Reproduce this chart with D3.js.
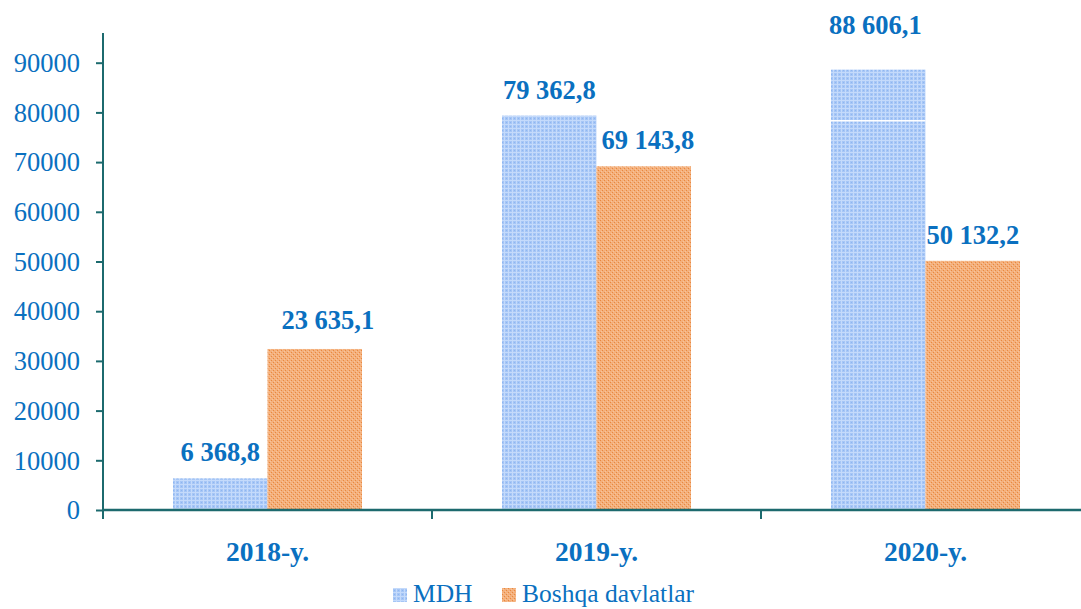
<!DOCTYPE html>
<html><head><meta charset="utf-8">
<script src="https://cdn.jsdelivr.net/npm/d3@7"></script>
<style>html,body{margin:0;padding:0;background:#fff;}svg{display:block;}</style>
</head><body>
<script>
const categories = ["2018-y.", "2019-y.", "2020-y."];
const seriesNames = ["MDH", "Boshqa davlatlar"];
const mdhValues = [6368.8, 79362.8, 88606.1];
const boshqaValues = [32400, 69143.8, 50132.2];
const mdhLabels = ["6 368,8", "79 362,8", "88 606,1"];
const boshqaLabels = ["23 635,1", "69 143,8", "50 132,2"];
const yTicks = [0, 10000, 20000, 30000, 40000, 50000, 60000, 70000, 80000, 90000];

const W = 1081, H = 609;
const svg = d3.select("body").append("svg").attr("width", W).attr("height", H);
const defs = svg.append("defs");

// Blue grid pattern
const pb = defs.append("pattern").attr("id","pBlue").attr("patternUnits","userSpaceOnUse").attr("width",4).attr("height",4);
pb.append("rect").attr("width",4).attr("height",4).attr("fill","#a6c6f6");
pb.append("rect").attr("width",4).attr("height",1).attr("fill","#c4dafb");
pb.append("rect").attr("width",1).attr("height",4).attr("fill","#c4dafb");
pb.append("rect").attr("x",2).attr("y",2).attr("width",1).attr("height",1).attr("fill","#8fb6f0");
// Orange pattern
const po = defs.append("pattern").attr("id","pOrange").attr("patternUnits","userSpaceOnUse").attr("width",4).attr("height",4);
po.append("rect").attr("width",4).attr("height",4).attr("fill","#f4b07c");
po.append("rect").attr("x",0).attr("y",0).attr("width",1).attr("height",1).attr("fill","#e8883f");
po.append("rect").attr("x",2).attr("y",2).attr("width",1).attr("height",1).attr("fill","#e8883f");
po.append("rect").attr("x",1).attr("y",3).attr("width",1).attr("height",1).attr("fill","#f7c49c");
po.append("rect").attr("x",3).attr("y",1).attr("width",1).attr("height",1).attr("fill","#f7c49c");

const left = 103, right = 1089, baseY = 510;
const y = d3.scaleLinear().domain([0, 100000]).range([baseY, 13]);
const x0 = d3.scaleBand().domain(categories).range([left, left + 329*3]).paddingInner(0).paddingOuter(0);
const x1 = d3.scaleBand().domain(seriesNames).range([x0.bandwidth()/2 - 94.5, x0.bandwidth()/2 + 94.5]);

const blue = "#0a70c0";
const axisColor = "#1c6a6e";
const serif = "'Liberation Serif','Times New Roman',serif";

const data = categories.map((c,i)=>({c, vals:[
  {s:seriesNames[0], v:mdhValues[i], lab:mdhLabels[i]},
  {s:seriesNames[1], v:boshqaValues[i], lab:boshqaLabels[i]}]}));
const fills = {"MDH":"url(#pBlue)","Boshqa davlatlar":"url(#pOrange)"};

const g = svg.append("g");
const groups = g.selectAll("g.cat").data(data).join("g").attr("transform", d=>`translate(${x0(d.c)},0)`);
groups.selectAll("rect").data(d=>d.vals).join("rect")
  .attr("x", d=>x1(d.s)).attr("width", x1.bandwidth())
  .attr("y", d=>y(d.v)).attr("height", d=>baseY - y(d.v))
  .attr("fill", d=>fills[d.s]);

// artifact white line on 2020 MDH bar
svg.append("line").attr("x1", x0(categories[2]) + x1(seriesNames[0])).attr("x2", x0(categories[2]) + x1(seriesNames[0]) + x1.bandwidth())
  .attr("y1", y(78300)).attr("y2", y(78300)).attr("stroke","#fff").attr("stroke-width",1.5);

// value labels
const labelDy = {"88 606,1": -36, "23 635,1": -20};
const labelDx = {"23 635,1": 13, "69 143,8": 4, "88 606,1": -3};
groups.selectAll("text.val").data(d=>d.vals).join("text").attr("class","val")
  .attr("x", d=>x1(d.s) + x1.bandwidth()/2 + (labelDx[d.lab]||0))
  .attr("y", d=>y(d.v) + (labelDy[d.lab]||-17))
  .attr("text-anchor","middle").attr("fill", blue)
  .attr("font-family", serif).attr("font-weight","bold").attr("font-size", 26.5)
  .text(d=>d.lab);

// Y axis
const yAxis = d3.axisLeft(y).tickValues(yTicks).tickSize(7).tickPadding(16).tickFormat(d3.format("d"));
const ya = svg.append("g").attr("transform",`translate(${left},0)`).call(yAxis);
ya.select(".domain").attr("stroke", axisColor).attr("stroke-width",2).attr("d", `M0,${y(96000)}V${baseY}`);
ya.selectAll(".tick line").attr("stroke", axisColor).attr("stroke-width",2);
ya.selectAll(".tick text").attr("fill", blue).attr("font-family", serif).attr("font-size", 26.5).attr("dy","0.33em");

// X axis
const xAxis = d3.axisBottom(x0).tickSize(0).tickPadding(38);
const xa = svg.append("g").attr("transform",`translate(0,${baseY})`).call(xAxis);
xa.select(".domain").attr("stroke", axisColor).attr("stroke-width",2.5).attr("d", `M${left},0H${right}`);
xa.selectAll(".tick text").attr("fill", blue).attr("font-family", serif).attr("font-weight","bold").attr("font-size", 27.5).attr("dy","0.48em");
// category boundary ticks
const bounds = categories.map(c=>x0(c));
svg.append("g").selectAll("line").data(bounds).join("line")
  .attr("x1", d=>d).attr("x2", d=>d).attr("y1", baseY).attr("y2", baseY+9)
  .attr("stroke", axisColor).attr("stroke-width",2);

// Legend
const legend = svg.append("g");
const items = [{s:seriesNames[0], x:393}, {s:seriesNames[1], x:502}];
items.forEach(it=>{
  legend.append("rect").attr("x", it.x).attr("y", 588).attr("width",14).attr("height",14).attr("fill", fills[it.s]);
  legend.append("text").attr("x", it.x + 20).attr("y", 602).attr("fill", blue)
    .attr("font-family", serif).attr("font-size", 25.5).text(it.s);
});
</script>
</body></html>
